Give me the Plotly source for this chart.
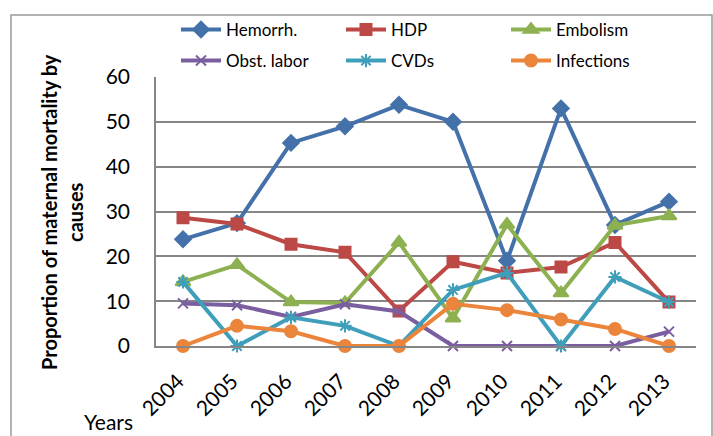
import plotly.graph_objects as go

years = ["2004", "2005", "2006", "2007", "2008", "2009", "2010", "2011", "2012", "2013"]
hemorrh = [23.8, 27.4, 45.3, 49.0, 53.8, 50.0, 19.0, 53.0, 27.0, 32.2]
hdp = [28.6, 27.2, 22.7, 20.9, 7.8, 18.8, 16.3, 17.6, 23.1, 9.8]
embolism = [14.3, 18.1, 9.8, 9.6, 23.1, 6.2, 27.1, 11.8, 26.9, 29.0]
obst_labor = [9.5, 9.1, 6.5, 9.3, 7.7, 0, 0, 0, 0, 3.2]
cvds = [14.3, 0, 6.4, 4.5, 0, 12.5, 16.3, 0, 15.4, 9.8]
infections = [0, 4.5, 3.3, 0, 0, 9.4, 8.0, 5.9, 3.8, 0]

series = [
    ("Hemorrh.", hemorrh, "#4471AA", "diamond", 12, "legend"),
    ("HDP", hdp, "#BC4946", "square", 11, "legend"),
    ("Embolism", embolism, "#8DB150", "triangle-up", 13, "legend"),
    ("Obst. labor", obst_labor, "#7B5E9F", "x-thin-open", 10, "legend2"),
    ("CVDs", cvds, "#3F9FBA", "asterisk-open", 11, "legend2"),
    ("Infections", infections, "#EB853C", "circle", 12, "legend2"),
]

FONT = "Lato, Carlito, Calibri, sans-serif"

fig = go.Figure()
for name, vals, color, sym, size, lg in series:
    fig.add_trace(go.Scatter(
        x=years, y=vals, name=name, mode="lines+markers",
        line=dict(color=color, width=4),
        marker=dict(symbol=sym, size=size, color=color,
                    line=dict(color=color, width=2)),
        cliponaxis=False, legend=lg,
    ))

leg_common = dict(orientation="h", xref="container", yref="container",
                  xanchor="left", yanchor="middle", entrywidth=110,
                  entrywidthmode="pixels", font=dict(family=FONT, size=17, color="#000"),
                  bgcolor="rgba(0,0,0,0)", itemwidth=40, traceorder="normal")

fig.update_layout(
    width=713, height=436,
    margin=dict(l=156, r=17, t=77, b=90, autoexpand=False),
    paper_bgcolor="white", plot_bgcolor="white",
    font=dict(family=FONT, color="#000"),
    legend=dict(x=176 / 713, y=1 - 30 / 436, **leg_common),
    legend2=dict(x=176 / 713, y=1 - 61 / 436, **leg_common),
    xaxis=dict(type="category", range=[-0.5, 9.5], showgrid=False,
               tickangle=-45, tickfont=dict(family=FONT, size=21),
               ticklabelstandoff=13, ticklabelshift=-5,
               showline=True, linecolor="#868686", linewidth=1.5,
               ticks="", zeroline=False, automargin=False),
    yaxis=dict(range=[0, 60], dtick=10, showgrid=True, gridcolor="#868686",
               gridwidth=1.5, tickfont=dict(family=FONT, size=21),
               showline=True, linecolor="#868686", linewidth=1.5,
               ticks="", ticklabelstandoff=20,
               zeroline=False, automargin=False),
    shapes=[dict(type="rect", xref="paper", yref="paper",
                 x0=(11 - 156) / 540, x1=(712 - 156) / 540,
                 y0=(346 - 440) / 269, y1=(346 - 15) / 269,
                 line=dict(color="#9a9a9a", width=1.5), layer="below")],
    annotations=[
        dict(text="<b>Proportion of maternal mortality by<br>causes</b>",
             xref="paper", yref="paper", x=(62 - 156) / 540, y=(346 - 212) / 269,
             xanchor="center", yanchor="middle", textangle=-90, showarrow=False,
             font=dict(family=FONT, size=20)),
        dict(text="Years", xref="paper", yref="paper",
             x=(108 - 156) / 540, y=(346 - 421) / 269,
             xanchor="center", yanchor="middle", showarrow=False,
             font=dict(family=FONT, size=21)),
    ],
)

fig.write_html("out.html", config={"displayModeBar": False},
               post_script="document.body.style.margin='0';document.body.style.overflow='hidden';")
